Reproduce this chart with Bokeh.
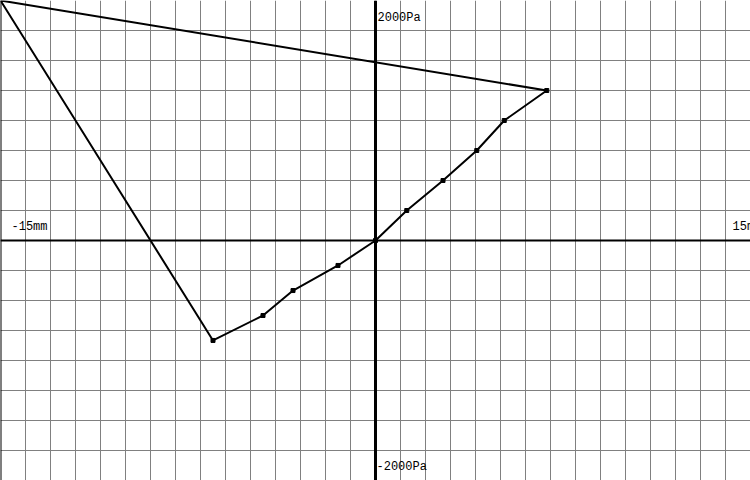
from bokeh.plotting import figure
from bokeh.models import Range1d, FixedTicker, Grid, Span, ColumnDataSource
from bokeh.core.properties import value
from bokeh.embed import file_html
from bokeh.resources import INLINE

# Displacement (mm) and pressure (Pa) of the loop, in drawing order
disp_mm = [-6.5, -4.5, -3.3, -1.5, 0.0, 1.25, 2.7, 4.05, 5.15, 6.85, -15.0, -6.5]
press_pa = [-833, -625, -417, -208, 0, 250, 500, 750, 1000, 1250, 2000, -833]

# Marked measurement points
pt_mm = [-6.5, -4.5, -3.3, -1.5, 0.0, 1.25, 2.7, 4.05, 5.15, 6.85]
pt_pa = [-833, -625, -417, -208, 0, 250, 500, 750, 1000, 1250]

x_min, x_max = -15, 15
y_min, y_max = -2000, 2000
x_step, y_step = 1, 250

lab_text = ["2000Pa", "-2000Pa", "-15mm", "15mm"]
lab_x = [0, 0, -15, 15]
lab_y = [2000, -2000, 0, 0]
lab_dx = [2, 1, 11, -18]
lab_dy = [17, -14, -14, -14]

p = figure(width=750, height=480, output_backend="svg", toolbar_location=None,
           x_range=Range1d(x_min, x_max), y_range=Range1d(y_min, y_max),
           x_axis_type=None, y_axis_type=None, min_border=0,
           background_fill_color="white", border_fill_color="white")
p.outline_line_color = None

xt = FixedTicker(ticks=list(range(x_min, x_max + 1, x_step)))
yt = FixedTicker(ticks=list(range(y_min, y_max + 1, y_step)))
p.add_layout(Grid(dimension=0, ticker=xt, grid_line_color="#808080", grid_line_width=1))
p.add_layout(Grid(dimension=1, ticker=yt, grid_line_color="#808080", grid_line_width=1))

p.add_layout(Span(location=0, dimension="height", line_color="black", line_width=3))
p.add_layout(Span(location=0, dimension="width", line_color="black", line_width=2))
p.add_layout(Span(location=x_min, dimension="height", line_color="black", line_width=2))

p.line(disp_mm, press_pa, line_color="black", line_width=2)
p.scatter(pt_mm, pt_pa, marker="square", size=4, fill_color="black", line_color="black")

src = ColumnDataSource(dict(x=lab_x, y=lab_y, t=lab_text, dx=lab_dx, dy=lab_dy))
p.text(x="x", y="y", text="t", x_offset="dx", y_offset="dy", source=src,
       text_font=value("Liberation Mono"), text_font_size="12px",
       text_color="black", text_baseline="middle", text_align="left")

open("out.html", "w").write(file_html(p, INLINE))
